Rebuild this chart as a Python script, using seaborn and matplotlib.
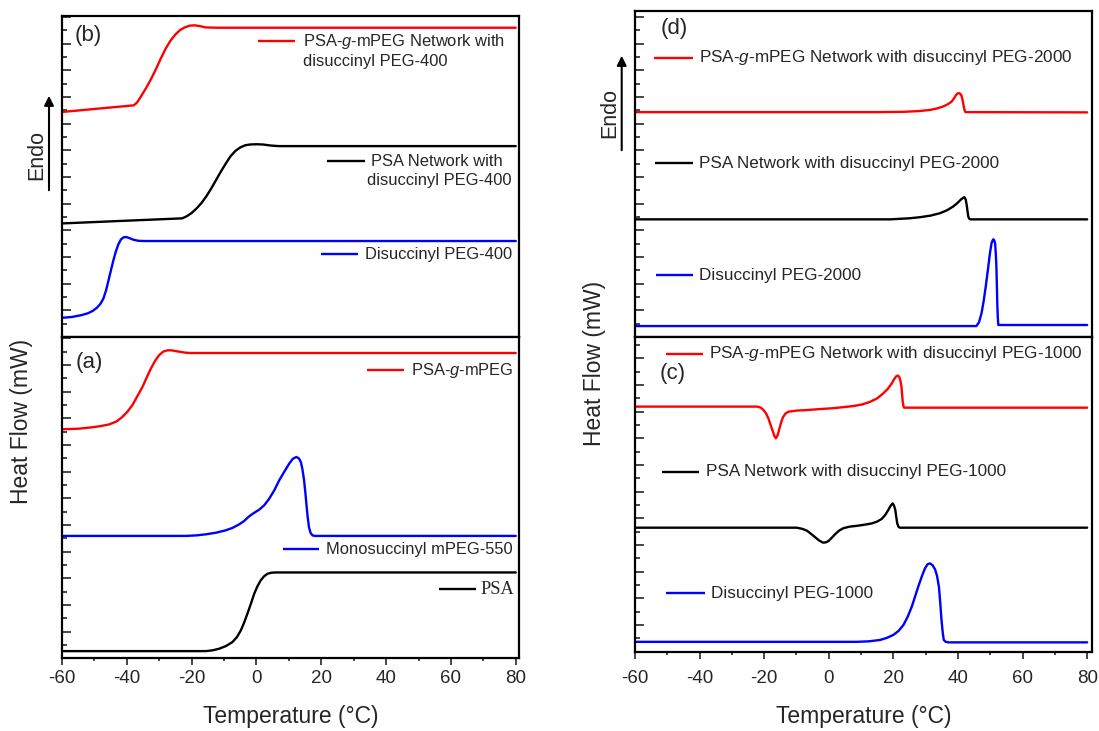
import matplotlib
matplotlib.use("Agg")
import matplotlib.pyplot as plt
from matplotlib.patches import FancyArrowPatch
from matplotlib.ticker import MultipleLocator
import pandas as pd
import seaborn as sns

# ---------------- DSC traces: temperature (°C) vs. stacked heat flow ----------------
# (b) PEG-400 based samples
b_red_T = [-60, -37.8, -36.8, -35.5, -34.0, -32.5, -31.0, -29.5, -28.0, -26.5, -25.0, -23.5,
           -22.0, -20.5, -19.0, -17.5, -15.5, -12.0, 80]
b_red_hf = [8.44, 8.69, 8.80, 9.05, 9.35, 9.68, 10.05, 10.45, 10.82, 11.12, 11.35, 11.52,
            11.62, 11.68, 11.69, 11.66, 11.61, 11.60, 11.60]
b_black_T = [-60, -22.9, -21.5, -20.0, -18.5, -17.0, -15.5, -14.0, -12.5, -11.0, -9.5, -8.0,
             -6.5, -5.0, -3.5, -2.0, 0.0, 2.0, 4.5, 7.0, 80]
b_black_hf = [4.26, 4.45, 4.53, 4.65, 4.82, 5.02, 5.27, 5.56, 5.88, 6.20, 6.50, 6.78,
              6.98, 7.11, 7.19, 7.22, 7.23, 7.22, 7.18, 7.16, 7.16]
b_blue_T = [-60, -57.0, -54.0, -52.0, -50.5, -49.2, -48.1, -47.2, -46.4, -45.7, -45.0, -44.2,
            -43.4, -42.6, -41.8, -41.0, -40.2, -39.2, -38.0, -36.5, -35.0, 80]
b_blue_hf = [0.72, 0.75, 0.82, 0.89, 0.98, 1.10, 1.25, 1.45, 1.75, 2.10, 2.45, 2.85,
             3.20, 3.48, 3.66, 3.74, 3.75, 3.71, 3.65, 3.61, 3.60, 3.60]

# (a) precursors
a_red_T = [-60, -55.0, -51.7, -48.5, -45.5, -43.2, -41.4, -39.8, -38.3, -36.8, -35.2, -33.9,
           -32.6, -31.3, -30.1, -28.8, -27.5, -26.2, -24.8, -23.4, -21.8, -20.3, 80]
a_red_hf = [8.59, 8.61, 8.65, 8.70, 8.77, 8.88, 9.05, 9.25, 9.49, 9.82, 10.17, 10.52,
            10.86, 11.15, 11.36, 11.50, 11.55, 11.55, 11.52, 11.49, 11.46, 11.45, 11.45]
a_blue_T = [-60, -21.8, -18.5, -15.6, -12.5, -9.5, -7.4, -5.4, -3.8, -2.3, -0.8, 0.8, 2.4,
            3.9, 5.5, 7.0, 8.6, 10.1, 11.2, 12.3, 13.1, 13.7, 14.2, 14.7, 15.1, 15.4, 15.8,
            16.2, 16.7, 17.3, 18.0, 80]
a_blue_hf = [4.59, 4.59, 4.61, 4.65, 4.71, 4.80, 4.89, 5.02, 5.15, 5.32, 5.45, 5.57, 5.74,
             5.98, 6.30, 6.67, 7.00, 7.30, 7.48, 7.55, 7.50, 7.36, 7.08, 6.67, 6.20, 5.80,
             5.30, 4.92, 4.70, 4.61, 4.59, 4.59]
a_black_T = [-60, -15.6, -13.5, -11.5, -9.4, -7.4, -6.0, -4.8, -3.8, -2.8, -1.7, -0.7, 0.3,
             1.3, 2.3, 3.4, 4.6, 6.0, 80]
a_black_hf = [0.27, 0.27, 0.30, 0.36, 0.46, 0.61, 0.80, 1.05, 1.34, 1.67, 2.05, 2.42, 2.70,
              2.92, 3.07, 3.17, 3.21, 3.22, 3.22]

# (d) PEG-2000 based samples
d_red_T = [-60, 15.0, 23.1, 28.0, 31.3, 33.6, 35.4, 36.8, 38.0, 38.8, 39.4, 39.9, 40.3,
           40.7, 41.1, 41.4, 41.7, 42.0, 42.3, 80]
d_red_hf = [8.43, 8.43, 8.44, 8.47, 8.51, 8.57, 8.64, 8.72, 8.82, 8.95, 9.07, 9.13, 9.14,
            9.12, 9.04, 8.90, 8.70, 8.52, 8.43, 8.42]
d_black_T = [-60, 19.0, 25.0, 28.2, 31.5, 34.4, 36.6, 38.5, 39.8, 40.8, 41.5, 42.0, 42.4,
             42.7, 43.0, 43.2, 43.5, 43.9, 80]
d_black_hf = [4.41, 4.41, 4.45, 4.49, 4.55, 4.64, 4.75, 4.89, 5.02, 5.14, 5.21, 5.24, 5.15,
              4.95, 4.68, 4.51, 4.43, 4.41, 4.41]
d_blue_T = [-60, 45.7, 46.5, 47.3, 48.0, 48.6, 49.3, 49.9, 50.4, 50.9, 51.2, 51.5, 51.7,
            51.9, 52.05, 52.2, 52.35, 52.5, 80]
d_blue_hf = [0.41, 0.41, 0.55, 0.89, 1.38, 1.89, 2.55, 3.14, 3.52, 3.66, 3.63, 3.51, 3.15,
             2.64, 1.90, 1.14, 0.70, 0.45, 0.45]

# (c) PEG-1000 based samples
c_red_T = [-60, -22.2, -21.0, -20.2, -19.4, -18.7, -18.0, -17.3, -16.8, -16.4, -15.9, -15.4,
           -14.8, -14.2, -13.4, -12.5, -10.0, -6.8, -2.5, 1.4, 4.5, 7.6, 10.3, 12.8, 15.0,
           16.9, 18.3, 19.5, 20.4, 21.0, 21.4, 21.8, 22.2, 22.5, 22.7, 22.9, 23.1, 23.3, 80]
c_red_hf = [9.19, 9.19, 9.15, 9.06, 8.93, 8.75, 8.50, 8.25, 8.08, 8.00, 8.10, 8.31,
            8.58, 8.79, 8.93, 9.00, 9.04, 9.06, 9.10, 9.13, 9.17, 9.21, 9.27, 9.37, 9.50,
            9.69, 9.86, 10.06, 10.25, 10.34, 10.35, 10.31, 10.15, 9.94, 9.65, 9.37, 9.22,
            9.15, 9.15]
c_black_T = [-60, -9.9, -8.3, -6.8, -5.5, -4.2, -3.0, -1.8, -0.9, -0.1, 1.0, 2.0, 3.2, 4.5,
             6.5, 8.7, 11.0, 13.3, 15.0, 16.4, 17.5, 18.4, 19.2, 19.8, 20.2, 20.6, 20.9,
             21.2, 21.6, 22.0, 80]
c_black_hf = [4.65, 4.65, 4.61, 4.54, 4.42, 4.29, 4.17, 4.09, 4.10, 4.15, 4.28, 4.41, 4.54,
              4.63, 4.69, 4.72, 4.76, 4.81, 4.88, 4.98, 5.13, 5.31, 5.48, 5.56, 5.48, 5.31,
              5.05, 4.81, 4.68, 4.65, 4.65]
c_blue_T = [-60, 8.7, 12.5, 15.9, 18.0, 20.0, 21.6, 23.1, 24.4, 25.7, 26.7, 27.7, 28.8, 29.8,
            30.6, 31.3, 32.1, 32.9, 33.5, 34.1, 34.5, 34.9, 35.3, 35.6, 36.2, 37.0, 80]
c_blue_hf = [0.37, 0.37, 0.39, 0.44, 0.52, 0.63, 0.78, 1.00, 1.30, 1.69, 2.06, 2.44, 2.82,
             3.13, 3.28, 3.31, 3.25, 3.09, 2.85, 2.44, 1.85, 1.19, 0.70, 0.44, 0.37, 0.35,
             0.35]

x_ticks = [-60, -40, -20, 0, 20, 40, 60, 80]
x_tick_labels = ["-60", "-40", "-20", "0", "20", "40", "60", "80"]

RED, BLUE, BLACK = "#ff0000", "#0000ff", "#000000"

sns.set_theme(style="ticks")
plt.rcParams["font.family"] = ["Liberation Sans", "DejaVu Sans"]
plt.rcParams["mathtext.fontset"] = "custom"
plt.rcParams["mathtext.rm"] = "Liberation Sans"
plt.rcParams["mathtext.it"] = "Liberation Sans:italic"
plt.rcParams["axes.linewidth"] = 1.6
plt.rcParams["axes.edgecolor"] = "black"

W, H = 1099, 731
fig = plt.figure(figsize=(W / 100, H / 100), dpi=100)
fig.patch.set_facecolor("white")

ax_b = fig.add_axes([0.05641, 0.53899, 0.41611, 0.43912])
ax_a = fig.add_axes([0.05641, 0.09945, 0.41611, 0.43953])
ax_d = fig.add_axes([0.57780, 0.53899, 0.41583, 0.44596])
ax_c = fig.add_axes([0.57780, 0.10848, 0.41583, 0.43051])

panels = [
    (ax_b, [(b_red_T, b_red_hf, RED), (b_black_T, b_black_hf, BLACK), (b_blue_T, b_blue_hf, BLUE)],
     12.04, 81.1, False),
    (ax_a, [(a_red_T, a_red_hf, RED), (a_blue_T, a_blue_hf, BLUE), (a_black_T, a_black_hf, BLACK)],
     12.05, 81.1, True),
    (ax_d, [(d_red_T, d_red_hf, RED), (d_black_T, d_black_hf, BLACK), (d_blue_T, d_blue_hf, BLUE)],
     12.22, 81.5, False),
    (ax_c, [(c_red_T, c_red_hf, RED), (c_black_T, c_black_hf, BLACK), (c_blue_T, c_blue_hf, BLUE)],
     11.80, 81.5, True),
]

for ax, series, ytop, xmax, bottom in panels:
    ax.set_facecolor("white")
    for T, hf, col in series:
        df = pd.DataFrame({"T": T, "hf": hf})
        sns.lineplot(data=df, x="T", y="hf", ax=ax, color=col, lw=1.7,
                     estimator=None, sort=False, legend=False)
    for ln in ax.lines:
        ln.set_solid_joinstyle("round")
    ax.set_xlim(-60, xmax)
    ax.set_ylim(0, ytop)
    ax.set_xlabel("")
    ax.set_ylabel("")
    for s in ax.spines.values():
        s.set_visible(True)
        s.set_linewidth(1.6)
        s.set_color("black")
    ax.yaxis.set_major_locator(MultipleLocator(1))
    ax.yaxis.set_minor_locator(MultipleLocator(0.5))
    ax.tick_params(axis="y", which="major", direction="in", length=6.5, width=1.2,
                   left=True, right=False, labelleft=False)
    ax.tick_params(axis="y", which="minor", direction="in", length=3.5, width=1.2,
                   left=True, right=False)
    if bottom:
        ax.set_xticks(x_ticks)
        ax.set_xticklabels(x_tick_labels)
        ax.xaxis.set_minor_locator(MultipleLocator(10))
        ax.tick_params(axis="x", which="major", direction="out", length=5, width=1.2,
                       labelsize=13.5, pad=3.5, top=False)
        ax.tick_params(axis="x", which="minor", direction="out", length=2.5, width=1.2,
                       top=False)
        ax.set_xlabel("Temperature (°C)", fontsize=16.5)
    else:
        ax.tick_params(axis="x", which="both", bottom=False, top=False, labelbottom=False)

ax_c.tick_params(axis="x", which="major", pad=8.5)
ax_a.xaxis.set_label_coords(0.5, -0.18)
ax_c.xaxis.set_label_coords(0.5, -0.205)
ax_a.xaxis.label.set_va("center")
ax_c.xaxis.label.set_va("center")


def key(ax, x0, x1, y, color):
    ax.plot([x0, x1], [y, y], transform=ax.transAxes, color=color, lw=1.7,
            clip_on=False, solid_capstyle="butt")


def note(ax, x, y, s, fs=12.3, **kw):
    ax.text(x, y, s, transform=ax.transAxes, ha="left", va="center", fontsize=fs, **kw)


LEFT_FS = 11.9

# (b)
note(ax_b, 0.027, 0.939, "(b)", fs=16)
key(ax_b, 0.429, 0.509, 0.922, RED)
note(ax_b, 0.526, 0.922, "PSA-$g$-mPEG Network with", fs=LEFT_FS)
note(ax_b, 0.526, 0.857, "disuccinyl PEG-400", fs=LEFT_FS)
key(ax_b, 0.579, 0.663, 0.548, BLACK)
note(ax_b, 0.675, 0.548, "PSA Network with", fs=LEFT_FS)
note(ax_b, 0.667, 0.487, "disuccinyl PEG-400", fs=LEFT_FS)
key(ax_b, 0.566, 0.647, 0.258, BLUE)
note(ax_b, 0.663, 0.258, "Disuccinyl PEG-400", fs=LEFT_FS)

# (a)
note(ax_a, 0.029, 0.922, "(a)", fs=16)
key(ax_a, 0.667, 0.748, 0.897, RED)
note(ax_a, 0.763, 0.897, "PSA-$g$-mPEG", fs=LEFT_FS)
key(ax_a, 0.483, 0.563, 0.340, BLUE)
note(ax_a, 0.577, 0.340, "Monosuccinyl mPEG-550", fs=LEFT_FS)
key(ax_a, 0.824, 0.905, 0.215, BLACK)
note(ax_a, 0.915, 0.215, "PSA", fs=13.2, family="Liberation Serif")

# (d)
note(ax_d, 0.056, 0.947, "(d)", fs=16)
key(ax_d, 0.042, 0.126, 0.857, RED)
note(ax_d, 0.141, 0.857, "PSA-$g$-mPEG Network with disuccinyl PEG-2000")
key(ax_d, 0.044, 0.128, 0.533, BLACK)
note(ax_d, 0.141, 0.533, "PSA Network with disuccinyl PEG-2000")
key(ax_d, 0.046, 0.128, 0.190, BLUE)
note(ax_d, 0.141, 0.190, "Disuccinyl PEG-2000")

# (c)
key(ax_c, 0.068, 0.149, 0.946, RED)
note(ax_c, 0.163, 0.946, "PSA-$g$-mPEG Network with disuccinyl PEG-1000")
note(ax_c, 0.053, 0.885, "(c)", fs=16)
key(ax_c, 0.058, 0.141, 0.572, BLACK)
note(ax_c, 0.155, 0.572, "PSA Network with disuccinyl PEG-1000")
key(ax_c, 0.068, 0.153, 0.186, BLUE)
note(ax_c, 0.166, 0.186, "Disuccinyl PEG-1000")


def fx(px):
    return px / W


def fy(py):
    return 1 - py / H


# Endothermic direction arrows and shared y labels
for ax_x, y_tail, y_head, tx, ty in [(49, 193, 93, 37, 155), (621.7, 153, 53, 610, 113)]:
    fig.add_artist(FancyArrowPatch((fx(ax_x), fy(y_tail)), (fx(ax_x), fy(y_head)),
                                   transform=fig.transFigure, arrowstyle="-|>",
                                   mutation_scale=14, lw=1.5, color="black"))
    fig.text(fx(tx), fy(ty), "Endo", rotation=90, ha="center", va="center", fontsize=15.5)

fig.text(fx(21.6), fy(421.5), "Heat Flow (mW)", rotation=90, ha="center", va="center",
         fontsize=16.5)
fig.text(fx(595), fy(363), "Heat Flow (mW)", rotation=90, ha="center", va="center",
         fontsize=16.5)

fig.savefig("out.png", dpi=100, facecolor="white")
